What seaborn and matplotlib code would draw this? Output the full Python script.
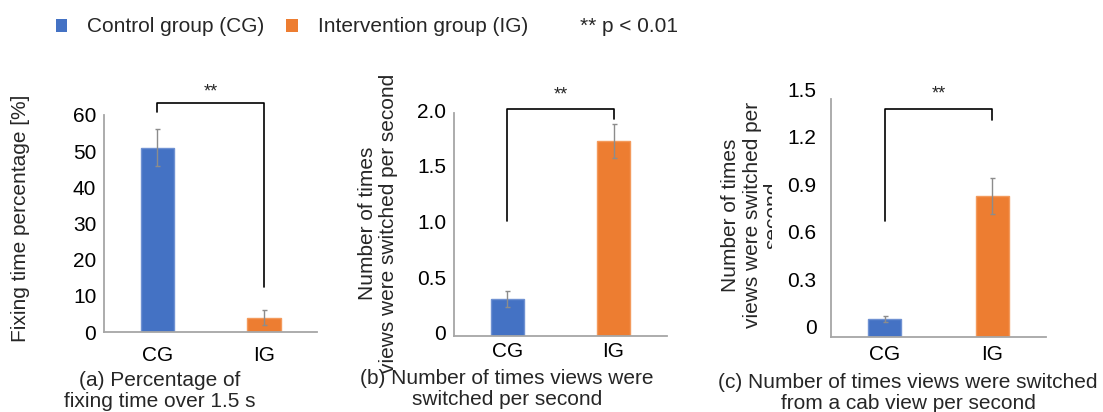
import numpy as np
import pandas as pd
import matplotlib
matplotlib.use("Agg")
import matplotlib.pyplot as plt
import matplotlib.transforms as mtransforms
from matplotlib.patches import Patch
import seaborn as sns

# ---- data ----
groups = ["CG", "IG"]

fixing_pct = [51.0, 4.0]
fixing_err = [5.0, 2.0]

switch_rate = [0.33, 1.75]
switch_err = [0.07, 0.15]

cab_switch_rate = [0.11, 0.89]
cab_switch_err = [0.02, 0.115]

a_ticks = [0, 10, 20, 30, 40, 50, 60]
a_ticklabels = ["0", "10", "20", "30", "40", "50", "60"]
b_ticks = [0, 0.5, 1.0, 1.5, 2.0]
b_ticklabels = ["0", "0.5", "1.0", "1.5", "2.0"]
c_ticks = [0, 0.3, 0.6, 0.9, 1.2, 1.5]
c_ticklabels = ["0", "0.3", "0.6", "0.9", "1.2", "1.5"]

legend_labels = ["Control group (CG)", "Intervention group (IG)"]
sig_note = "** p < 0.01"
sig_mark = "**"

titles = [
    "(a) Percentage of\nfixing time over 1.5 s",
    "(b) Number of times views were\nswitched per second",
    "(c) Number of times views were switched\nfrom a cab view per second",
]
ylabels = [
    "Fixing time percentage [%]",
    "Number of times\nviews were switched per second",
    "Number of times\nviews were switched per\nsecond",
]

# ---- style ----
sns.set_style("white")
plt.rcParams["font.family"] = ["Liberation Sans", "DejaVu Sans"]
plt.rcParams["font.size"] = 15

W, H = 1103, 412
fig = plt.figure(figsize=(W / 100, H / 100), dpi=100)

palette = ["#4472C4", "#ED7D31"]
edges = ["#6F91D2", "#F39A5C"]
axis_grey = "#a6a6a6"


def px_rect(left, top, right, bottom):
    return [left / W, 1 - bottom / H, (right - left) / W, (bottom - top) / H]


def panel(rect, values, errs, ylim, ticks, ticklabels, ylabel, label_xy,
          bracket, star_y, xpad, title, title_xy, ylab_shift):
    ax = fig.add_axes(rect)
    df = pd.DataFrame({"group": groups, "value": values})
    sns.barplot(data=df, x="group", y="value", hue="group", palette=palette,
                width=0.31, saturation=1, legend=False, ax=ax, linewidth=1)
    for patch, ec in zip(ax.patches, edges):
        patch.set_edgecolor(ec)
    ax.errorbar([0, 1], values, yerr=errs, fmt="none", ecolor="#8c8c8c",
                elinewidth=1, capsize=1.8, capthick=1)

    ax.set_xlim(-0.5, 1.5)
    ax.set_ylim(*ylim)
    for side in ("top", "right"):
        ax.spines[side].set_visible(False)
    for side in ("left", "bottom"):
        ax.spines[side].set_color(axis_grey)
        ax.spines[side].set_linewidth(1.3)

    ax.set_xticks([0, 1], groups)
    ax.set_xticks([0.5, 1.5], minor=True)
    ax.tick_params(axis="x", which="major", length=0, pad=xpad,
                   labelsize=15, labelcolor="black")
    ax.tick_params(axis="x", which="minor", length=3, direction="in",
                   color="#8c8c8c", width=1)
    ax.set_yticks(ticks, ticklabels)
    ax.tick_params(axis="y", length=3, direction="inout", color="#8c8c8c",
                   width=1, pad=4 if ylab_shift < 5 else 9, labelsize=15,
                   labelcolor="black")
    ax.set_xlabel("")

    ax.set_ylabel(ylabel, fontsize=15, va="center", ha="center",
                  linespacing=1.15)
    lx, ly = label_xy
    x0, y0, w, h = rect
    ax.yaxis.set_label_coords((lx / W - x0) / w, ((1 - ly / H) - y0) / h)

    # significance bracket between the two groups
    yl, yt, yr = bracket
    ax.plot([0, 0, 1, 1], [yl, yt, yt, yr], color="black", lw=1.2,
            clip_on=False)
    ax.text(0.5, star_y, sig_mark, ha="center", va="center", fontsize=13,
            clip_on=False)

    fig.text(title_xy[0] / W, 1 - title_xy[1] / H, title, ha="center",
             va="center", fontsize=15, multialignment="center",
             linespacing=1.1)

    if ylab_shift:
        off = mtransforms.ScaledTranslation(0, ylab_shift / 100,
                                            fig.dpi_scale_trans)
        for lbl in ax.get_yticklabels():
            lbl.set_transform(lbl.get_transform() + off)
    return ax


ax_a = panel(px_rect(104, 115, 317.3, 332), fixing_pct, fixing_err, (0, 60),
             a_ticks, a_ticklabels, ylabels[0], (20, 218),
             (60.9, 63.4, 12.4), 66.4, 10, titles[0], (160, 391), 0)

ax_b = panel(px_rect(454, 113.3, 666.7, 336), switch_rate, switch_err,
             (0, 2.0), b_ticks, b_ticklabels, ylabels[1], (378, 223),
             (1.035, 2.04, 1.95), 2.16, 4.5, titles[1], (507, 389), 3)

ax_c = panel(px_rect(831, 99.3, 1046, 336.7), cab_switch_rate, cab_switch_err,
             (0, 1.5), c_ticks, c_ticklabels, ylabels[2], (752, 215),
             (0.733, 1.438, 1.369), 1.533, 6, titles[2], (908, 393), 10)

# the third label line runs into the tick labels and is cut off
clip = mtransforms.TransformedBbox(
    mtransforms.Bbox([[0, 0], [772 / W, 1]]), fig.transFigure)
ax_c.yaxis.label.set_clip_box(clip)
ax_c.yaxis.label.set_clip_on(True)

# ---- legend ----
handles = [Patch(facecolor=c, edgecolor="none") for c in palette]
fig.legend(handles, legend_labels, loc="center left",
           bbox_to_anchor=(56 / W, 1 - 27 / H), ncol=2, frameon=False,
           fontsize=15, handlelength=0.55, handleheight=0.6,
           handletextpad=0.95, columnspacing=1.05, borderpad=0,
           borderaxespad=0)
fig.text(580 / W, 1 - 26 / H, sig_note, ha="left", va="center", fontsize=15)

fig.savefig("out.png", dpi=100)
